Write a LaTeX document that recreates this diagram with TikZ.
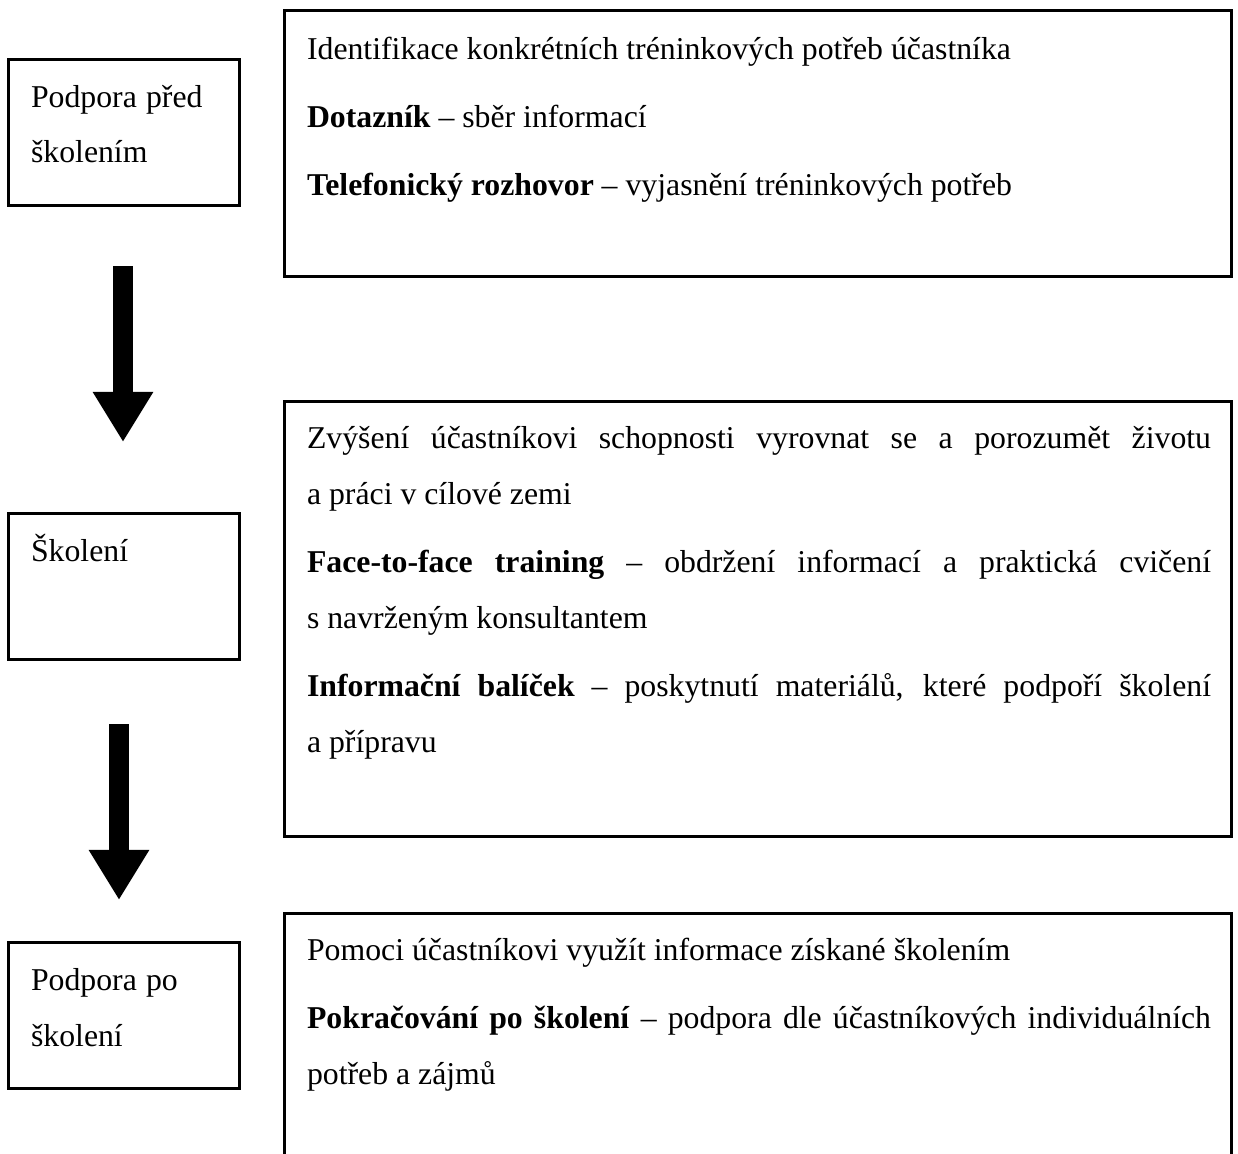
\documentclass[tikz,border=0pt]{standalone}
\usepackage{fontspec}
\setmainfont{Liberation Serif}
\usetikzlibrary{arrows.meta,positioning}

\newcommand{\boxfont}{\fontsize{11.55}{20.36}\selectfont\setlength{\parskip}{4.4pt}%
  \hyphenpenalty=10000\exhyphenpenalty=10000\tolerance=9999}

\tikzset{
  frame/.style={draw,line width=1.1pt},
  stagetext/.style={anchor=base west,inner sep=0pt,text width=75pt,align=left,
    execute at begin node=\boxfont},
  desctext/.style={anchor=base west,inner sep=0pt,text width=328.7pt,align=justify,
    execute at begin node=\boxfont},
  flow/.style={line width=7.27pt,-{Triangle[width=20.7pt,length=18.2pt]}}
}

\begin{document}
\begin{tikzpicture}[x=0.3636pt,y=-0.3636pt]
    \useasboundingbox (0,0) rectangle (1238,1154);
    % left column
    \draw[frame] (8.5,59.5) rectangle (239.5,205.5);
    \draw[frame] (8.5,513.5) rectangle (239.5,659.5);
    \draw[frame] (8.5,942.5) rectangle (239.5,1088.5);
    \node[stagetext] (pre) at (30.5,107) {Podpora před\\školením};
    \node[stagetext] (train) at (30.5,561) {Školení};
    \node[stagetext] (post) at (30.5,990) {Podpora po\\školení};
    % right column
    \draw[frame] (284.5,10.5) rectangle (1231.5,276.5);
    \draw[frame] (284.5,401.5) rectangle (1231.5,836.5);
    \draw[frame] (284.5,1154) |- (1231.5,913.5) -- (1231.5,1154);
    \node[desctext] (predesc) at (306.5,59) {Identifikace konkrétních tréninkových potřeb účastníka\par
        \textbf{Dotazník} – sběr informací\par
        \textbf{Telefonický rozhovor} – vyjasnění tréninkových potřeb};
    \node[desctext] (traindesc) at (306.5,448) {Zvýšení účastníkovi schopnosti vyrovnat se a porozumět životu\linebreak
        a práci v cílové zemi\par
        \textbf{Face-to-face training} – obdržení informací a praktická cvičení\linebreak
        s navrženým konsultantem\par
        \textbf{Informační balíček} – poskytnutí materiálů, které podpoří školení\linebreak
        a přípravu};
    \node[desctext] (postdesc) at (306.5,960) {Pomoci účastníkovi využít informace získané školením\par
        \textbf{Pokračování po školení} – podpora dle účastníkových individuálních\linebreak
        potřeb a zájmů};
    % arrows
    \coordinate (a1top) at (123,266);
    \coordinate (a1tip) at (123,442);
    \coordinate (a2top) at (119,724);
    \coordinate (a2tip) at (119,900);
    \draw[flow] (a1top) -- (a1tip);
    \draw[flow] (a2top) -- (a2tip);
\end{tikzpicture}
\end{document}
